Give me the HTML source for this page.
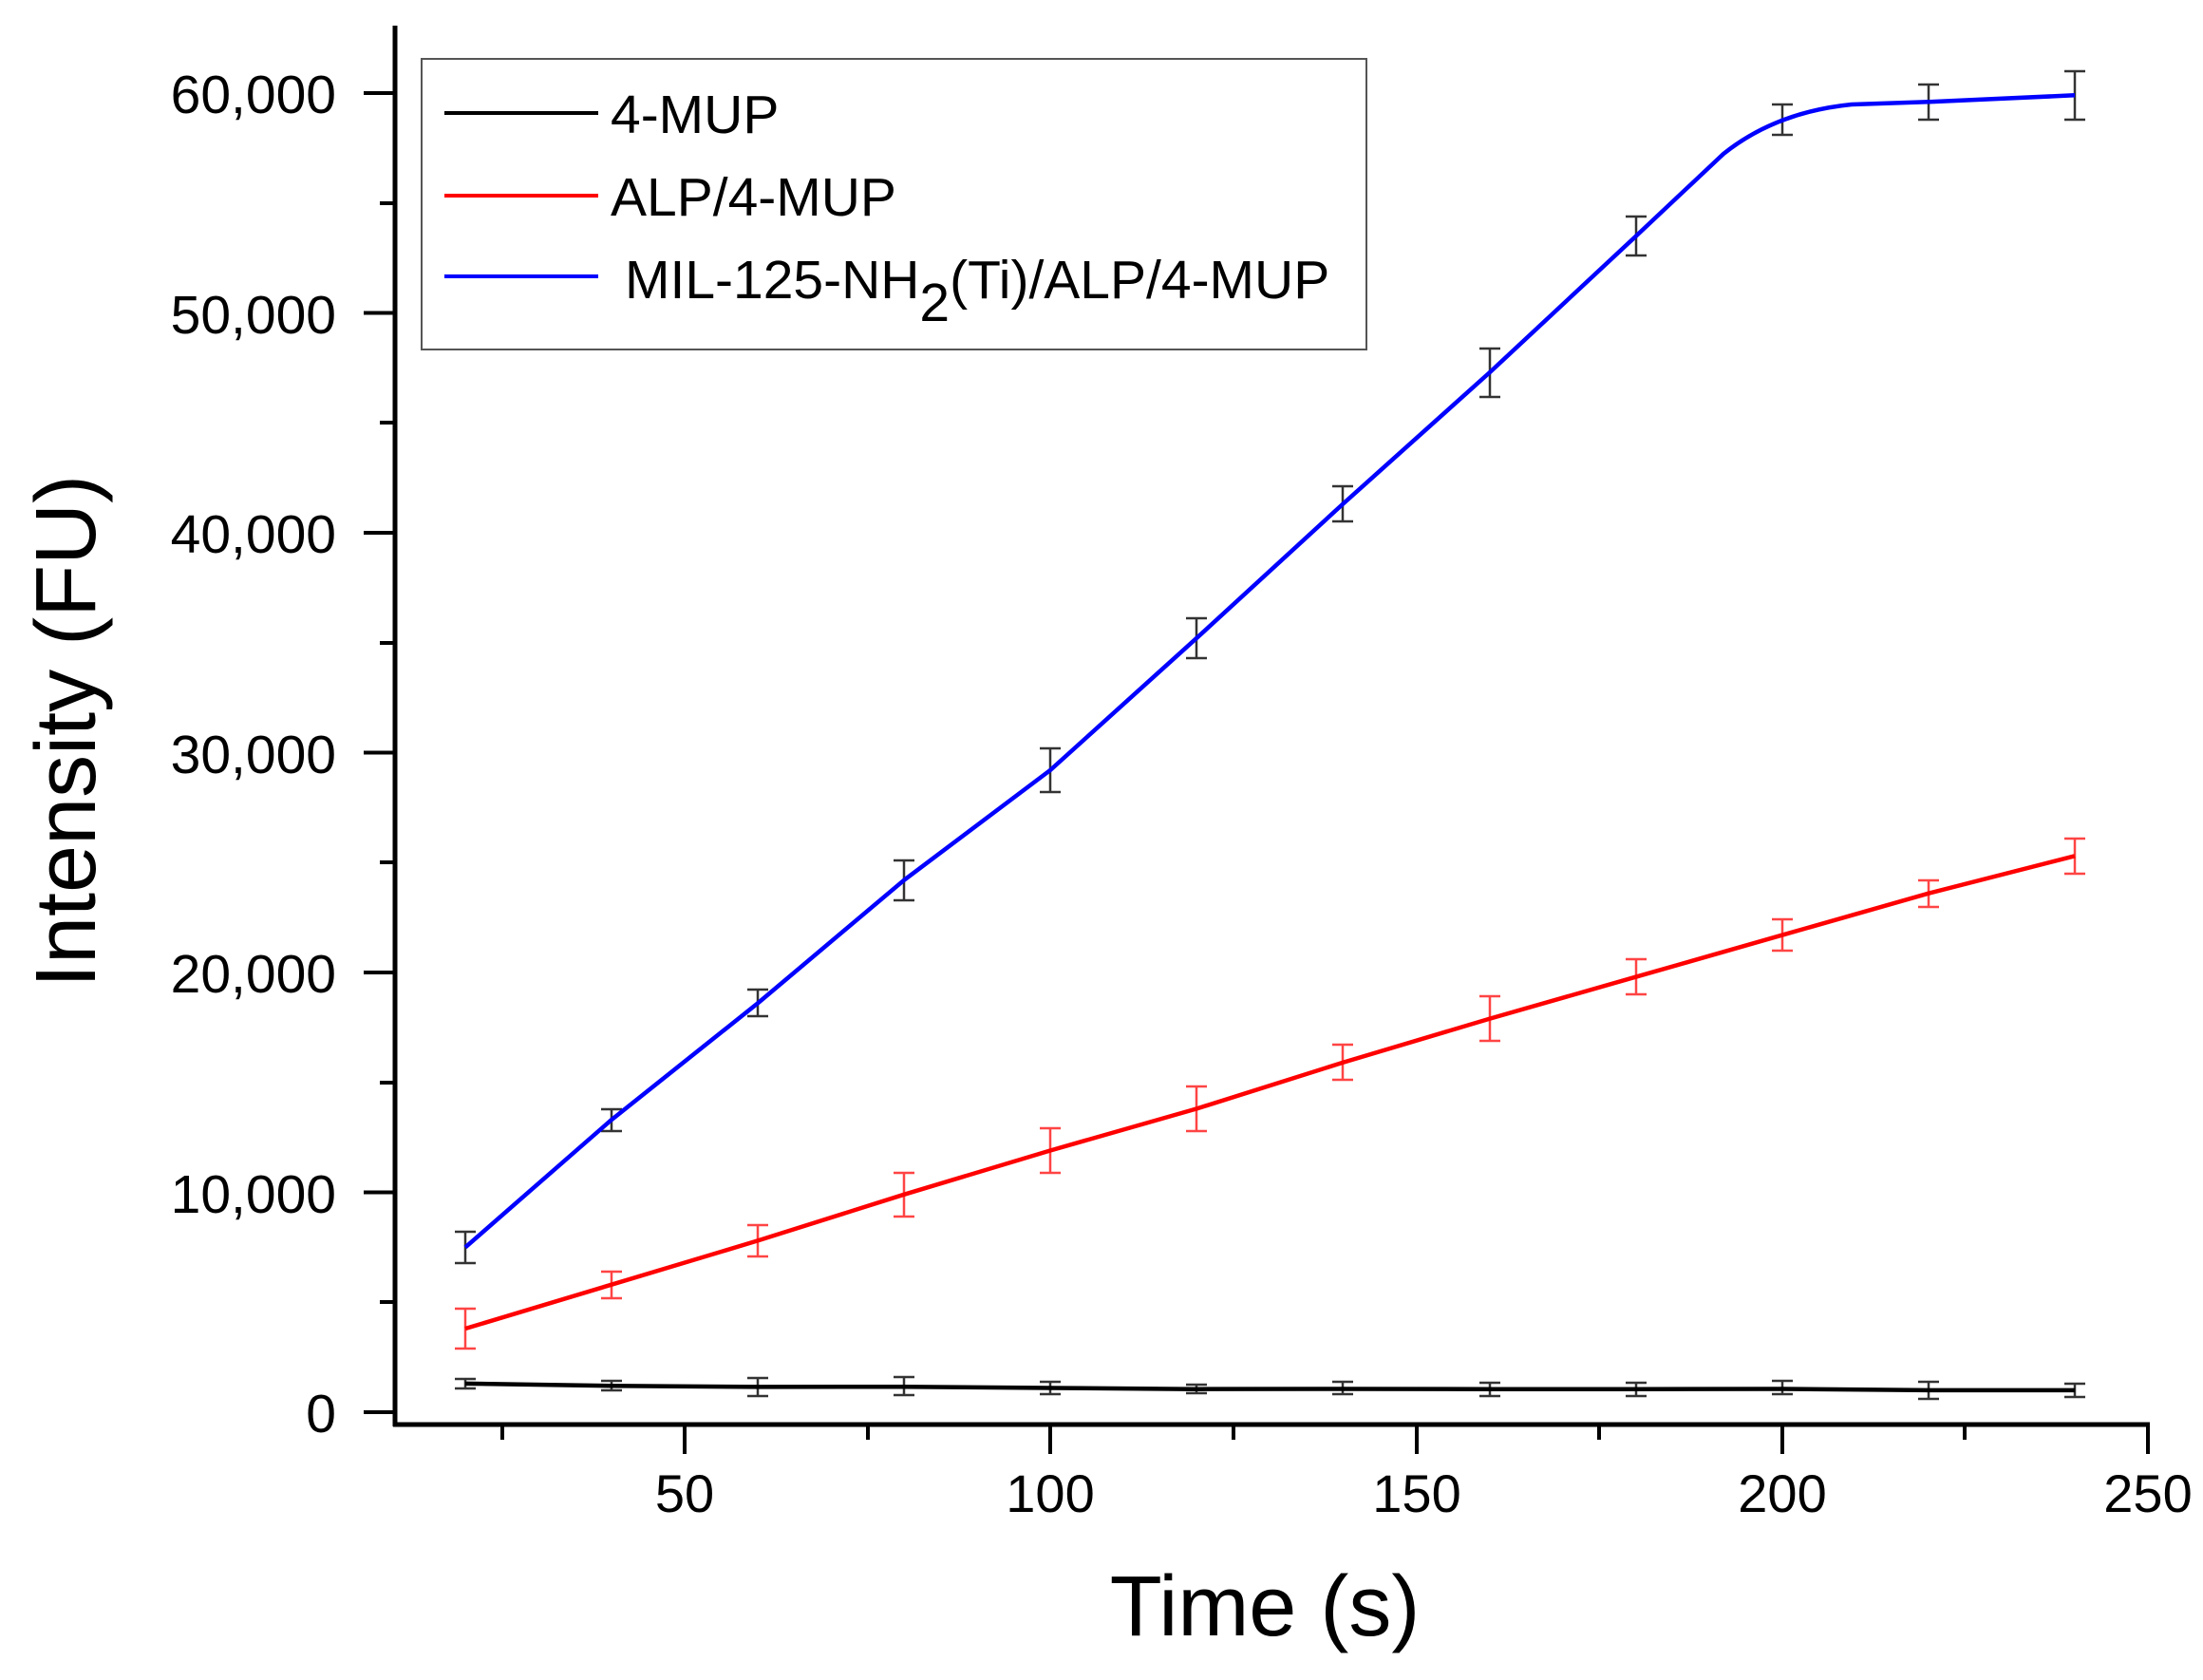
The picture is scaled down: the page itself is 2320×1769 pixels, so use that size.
<!DOCTYPE html>
<html><head><style>html,body{margin:0;padding:0;background:#fff}</style></head>
<body>
<svg width="2320" height="1764" viewBox="0 0 2320 1764" xmlns="http://www.w3.org/2000/svg" font-family="Liberation Sans, Arial, sans-serif">
<rect width="2320" height="1764" fill="#fff"/>
<g stroke="#333" stroke-width="2.5" fill="none">
<path d="M490,1297V1330M479,1297H501M479,1330H501"/>
<path d="M644,1168V1191M633,1168H655M633,1191H655"/>
<path d="M798,1042V1070M787,1042H809M787,1070H809"/>
<path d="M952,906V948M941,906H963M941,948H963"/>
<path d="M1106,788V834M1095,788H1117M1095,834H1117"/>
<path d="M1260,651V693M1249,651H1271M1249,693H1271"/>
<path d="M1414,512V549M1403,512H1425M1403,549H1425"/>
<path d="M1569,367V418M1558,367H1580M1558,418H1580"/>
<path d="M1723,228V269M1712,228H1734M1712,269H1734"/>
<path d="M1877,110V142M1866,110H1888M1866,142H1888"/>
<path d="M2031,89V126M2020,89H2042M2020,126H2042"/>
<path d="M2185,75V126M2174,75H2196M2174,126H2196"/>
<path d="M490,1452V1462M479,1452H501M479,1462H501"/>
<path d="M644,1454V1464M633,1454H655M633,1464H655"/>
<path d="M798,1451V1470M787,1451H809M787,1470H809"/>
<path d="M952,1450V1469M941,1450H963M941,1469H963"/>
<path d="M1106,1455V1468M1095,1455H1117M1095,1468H1117"/>
<path d="M1260,1458V1467M1249,1458H1271M1249,1467H1271"/>
<path d="M1414,1455V1468M1403,1455H1425M1403,1468H1425"/>
<path d="M1569,1456V1470M1558,1456H1580M1558,1470H1580"/>
<path d="M1723,1456V1470M1712,1456H1734M1712,1470H1734"/>
<path d="M1877,1454V1468M1866,1454H1888M1866,1468H1888"/>
<path d="M2031,1455V1473M2020,1455H2042M2020,1473H2042"/>
<path d="M2185,1457V1471M2174,1457H2196M2174,1471H2196"/>
</g>
<g stroke="#f44" stroke-width="2.5" fill="none">
<path d="M490,1378V1420M479,1378H501M479,1420H501"/>
<path d="M644,1339V1367M633,1339H655M633,1367H655"/>
<path d="M798,1290V1323M787,1290H809M787,1323H809"/>
<path d="M952,1235V1281M941,1235H963M941,1281H963"/>
<path d="M1106,1188V1235M1095,1188H1117M1095,1235H1117"/>
<path d="M1260,1144V1191M1249,1144H1271M1249,1191H1271"/>
<path d="M1414,1100V1137M1403,1100H1425M1403,1137H1425"/>
<path d="M1569,1049V1096M1558,1049H1580M1558,1096H1580"/>
<path d="M1723,1010V1047M1712,1010H1734M1712,1047H1734"/>
<path d="M1877,968V1001M1866,968H1888M1866,1001H1888"/>
<path d="M2031,927V955M2020,927H2042M2020,955H2042"/>
<path d="M2185,883V920M2174,883H2196M2174,920H2196"/>
</g>
<path d="M490,1313.4 L644,1179.1 L798,1056.4 L952,926.8 L1106,811 L1260,672.1 L1414,530.9 L1569,392 L1723,248.5 L1815,162 Q1870,118 1950,110 L2031,107.3 L2185,100.3" stroke="#00f" stroke-width="4.5" fill="none" stroke-linejoin="round"/>
<path d="M490,1399 L644,1352.7 L798,1306.4 L952,1257.8 L1106,1211.5 L1260,1167.5 L1414,1118.9 L1569,1072.6 L1723,1028.6 L1877,984.6 L2031,940.7 L2185,901.3" stroke="#f00" stroke-width="4.5" fill="none"/>
<path d="M490,1456.9 L644,1459.2 L798,1460.4 L952,1460.2 L1106,1461.5 L1260,1462.7 L1414,1462.5 L1569,1462.7 L1723,1462.7 L1877,1462.5 L2031,1463.9 L2185,1463.9" stroke="#000" stroke-width="4.5" fill="none"/>
<line x1="416" y1="27" x2="416" y2="1502" stroke="#000" stroke-width="5"/>
<line x1="414" y1="1500" x2="2264" y2="1500" stroke="#000" stroke-width="5"/>
<g stroke="#000" stroke-width="4">
<line x1="383" y1="1487" x2="416" y2="1487"/><line x1="383" y1="1255.5" x2="416" y2="1255.5"/>
<line x1="383" y1="1024" x2="416" y2="1024"/><line x1="383" y1="792.5" x2="416" y2="792.5"/>
<line x1="383" y1="561" x2="416" y2="561"/><line x1="383" y1="329.5" x2="416" y2="329.5"/>
<line x1="383" y1="98" x2="416" y2="98"/>
<line x1="400" y1="1371" x2="416" y2="1371"/><line x1="400" y1="1140" x2="416" y2="1140"/>
<line x1="400" y1="908" x2="416" y2="908"/><line x1="400" y1="677" x2="416" y2="677"/>
<line x1="400" y1="445" x2="416" y2="445"/><line x1="400" y1="214" x2="416" y2="214"/>
<line x1="529" y1="1500" x2="529" y2="1516"/><line x1="721" y1="1500" x2="721" y2="1531"/>
<line x1="914" y1="1500" x2="914" y2="1516"/><line x1="1106" y1="1500" x2="1106" y2="1531"/>
<line x1="1299" y1="1500" x2="1299" y2="1516"/><line x1="1492" y1="1500" x2="1492" y2="1531"/>
<line x1="1684" y1="1500" x2="1684" y2="1516"/><line x1="1877" y1="1500" x2="1877" y2="1531"/>
<line x1="2069" y1="1500" x2="2069" y2="1516"/><line x1="2262" y1="1500" x2="2262" y2="1531"/>
</g>
<g font-size="57" text-anchor="end" fill="#000">
<text x="354" y="1508">0</text><text x="354" y="1277">10,000</text><text x="354" y="1045">20,000</text>
<text x="354" y="814">30,000</text><text x="354" y="582">40,000</text><text x="354" y="351">50,000</text>
<text x="354" y="119">60,000</text>
</g>
<g font-size="56" text-anchor="middle" fill="#000">
<text x="721" y="1592">50</text><text x="1106" y="1592">100</text><text x="1492" y="1592">150</text>
<text x="1877" y="1592">200</text><text x="2262" y="1592">250</text>
</g>
<text x="1332" y="1722" font-size="90" text-anchor="middle">Time (s)</text>
<text transform="translate(100,770) rotate(-90)" font-size="90" text-anchor="middle">Intensity (FU)</text>
<rect x="444" y="62" width="995" height="306" fill="#fff" stroke="#555" stroke-width="2"/>
<line x1="468" y1="119" x2="630" y2="119" stroke="#000" stroke-width="4"/>
<line x1="468" y1="206" x2="630" y2="206" stroke="#f00" stroke-width="4"/>
<line x1="468" y1="291" x2="630" y2="291" stroke="#00f" stroke-width="4"/>
<g font-size="57" fill="#000">
<text x="643" y="140">4-MUP</text>
<text x="643" y="227">ALP/4-MUP</text>
<text x="658" y="314">MIL-125-NH<tspan dy="24">2</tspan><tspan dy="-24">(Ti)/ALP/4-MUP</tspan></text>
</g>
</svg>
</body></html>
